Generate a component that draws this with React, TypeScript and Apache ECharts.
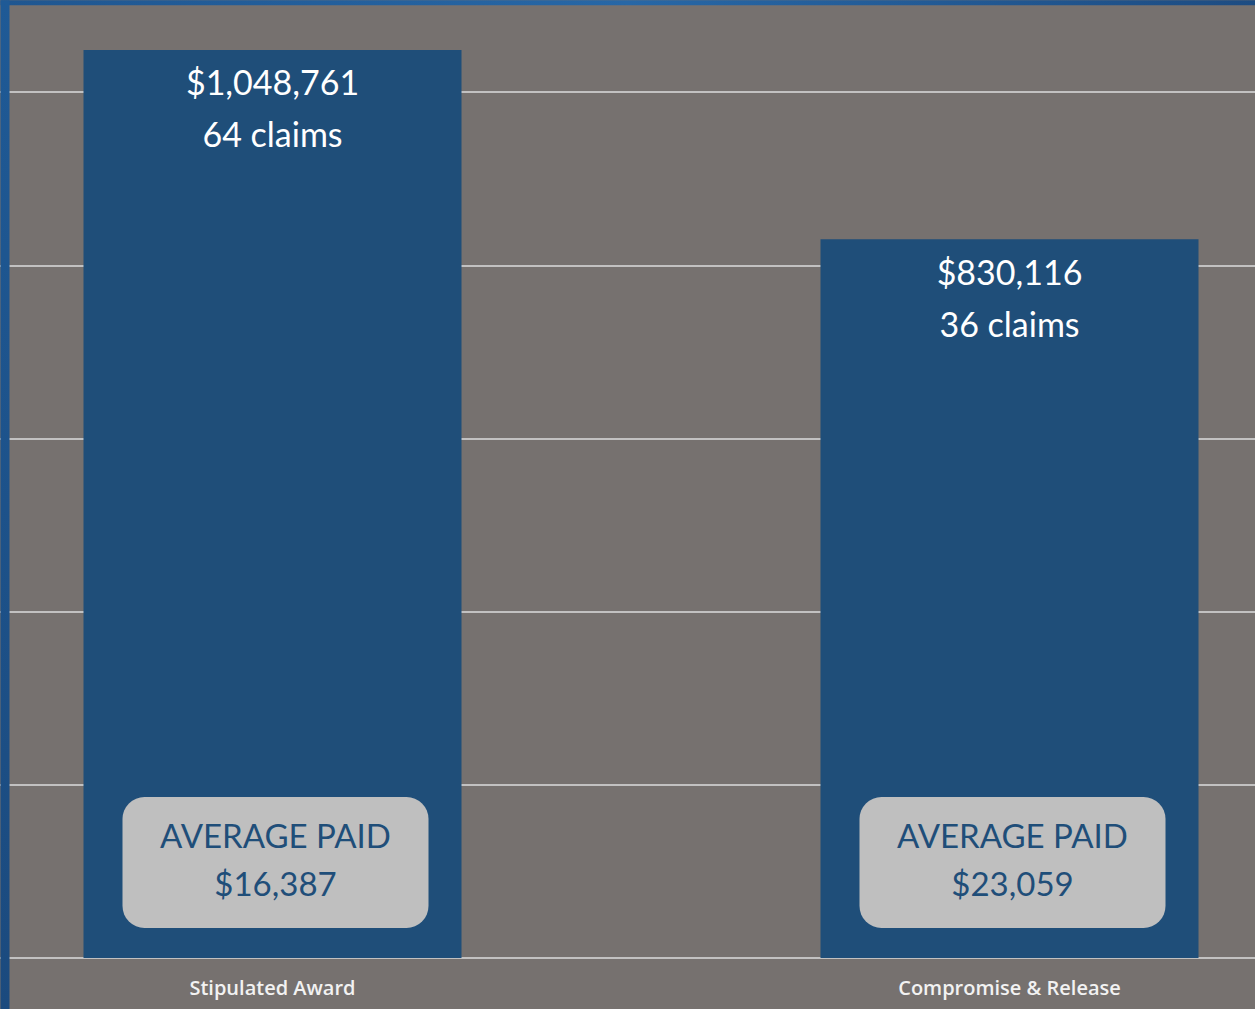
import React, { useEffect, useRef } from "react";
import * as echarts from "echarts";

const categories = ["Stipulated Award", "Compromise & Release"];
const totalPaid = [1048761, 830116];
const claimCounts = [64, 36];
const averagePaid = [16387, 23059];
const yTicks = { min: 0, max: 1200000, interval: 200000 };

const fmt = (v: number) => "$" + v.toLocaleString("en-US");

// the chart canvas is larger than the visible frame and shifted so that the
// plot area is cropped like the reference
const OFF_X = 96.5;
const OFF_Y = 81.2;
const VIEW_W = 1255;
const VIEW_H = 1009;
const CHART_W = VIEW_W + OFF_X + 122.5;
const CHART_H = VIEW_H + OFF_Y;

export default function App() {
  const ref = useRef<HTMLDivElement>(null);
  useEffect(() => {
    document.body.style.margin = "0";
    document.body.style.overflow = "hidden";
    const chart = echarts.init(ref.current!, undefined, { renderer: "svg" });
    const barColor = "#1F4E79";
    chart.setOption({
      animation: false,
      backgroundColor: "#76716F",
      grid: { left: 0, right: 0, top: 0, bottom: 51, containLabel: false },
      xAxis: {
        type: "category",
        data: categories,
        axisLine: { show: false },
        axisTick: { show: false },
        axisLabel: {
          color: "#F2F2F2",
          fontFamily: "Open Sans",
          fontSize: 20,
          fontWeight: 600,
          margin: 19,
        },
      },
      yAxis: {
        type: "value",
        min: yTicks.min,
        max: yTicks.max,
        interval: yTicks.interval,
        axisLabel: { show: false },
        axisLine: { show: false },
        axisTick: { show: false },
        splitLine: { lineStyle: { color: "#DCDCDC", width: 1.5 } },
      },
      series: [
        {
          type: "bar",
          data: totalPaid,
          barWidth: 378,
          itemStyle: { color: barColor },
          z: 2,
          label: {
            show: true,
            position: "insideTop",
            distance: 6,
            color: "#FFFFFF",
            fontFamily: "Lato",
            fontSize: 34,
            lineHeight: 52,
            align: "center",
            formatter: (p: any) => `${fmt(p.value)}\n${claimCounts[p.dataIndex]} claims`,
          },
        },
        {
          type: "bar",
          data: totalPaid,
          barWidth: 378,
          barGap: "-100%",
          itemStyle: { color: "transparent" },
          z: 3,
          label: {
            show: true,
            position: "insideBottom",
            distance: 30,
            offset: [3, 0],
            backgroundColor: "#BFBFBF",
            borderRadius: 22,
            width: 306,
            padding: [14, 0, 21, 0],
            color: barColor,
            fontFamily: "Lato",
            fontSize: 33,
            lineHeight: 48,
            align: "center",
            formatter: (p: any) => `AVERAGE PAID\n${fmt(averagePaid[p.dataIndex])}`,
          },
        },
      ],
      graphic: [
        {
          type: "rect",
          z: 100,
          shape: { x: OFF_X, y: OFF_Y, width: VIEW_W, height: 5 },
          style: {
            fill: new echarts.graphic.LinearGradient(0, 0, 1, 0, [
              { offset: 0, color: "#1F5690" },
              { offset: 0.5, color: "#2767A6" },
              { offset: 1, color: "#1D4C82" },
            ]),
          },
        },
        {
          type: "rect",
          z: 100,
          shape: { x: OFF_X, y: OFF_Y, width: 9, height: VIEW_H },
          style: {
            fill: new echarts.graphic.LinearGradient(0, 0, 0, 1, [
              { offset: 0, color: "#1F5A96" },
              { offset: 1, color: "#1B4A7E" },
            ]),
          },
        },
      ],
    });
    return () => chart.dispose();
  }, []);
  return (
    <div style={{ position: "relative", width: VIEW_W, height: VIEW_H, overflow: "hidden" }}>
      <div
        ref={ref}
        style={{ position: "absolute", left: -OFF_X, top: -OFF_Y, width: CHART_W, height: CHART_H }}
      />
    </div>
  );
}
